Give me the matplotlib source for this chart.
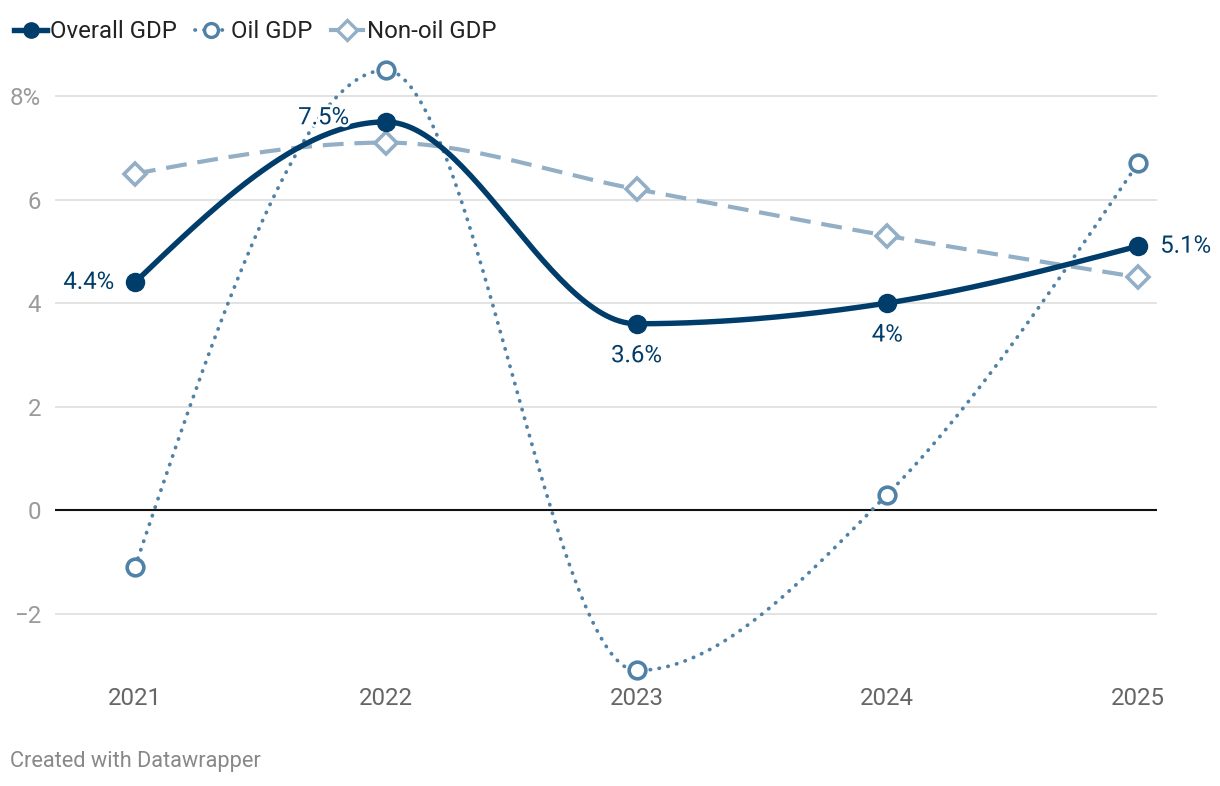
import numpy as np
import matplotlib
matplotlib.use("Agg")
import matplotlib.pyplot as plt
import matplotlib.patheffects as pe
from matplotlib.lines import Line2D

plt.rcParams["font.family"] = ["Roboto", "DejaVu Sans"]

# =========================
# DATA
# =========================
years = [2021, 2022, 2023, 2024, 2025]
overall = [4.4, 7.5, 3.6, 4.0, 5.1]
oil = [-1.1, 8.5, -3.1, 0.3, 6.7]
nonoil = [6.5, 7.1, 6.2, 5.3, 4.5]
overall_labels = ["4.4%", "7.5%", "3.6%", "4%", "5.1%"]
yticks = [-2, 0, 2, 4, 6, 8]
ytick_labels = ["\u22122", "0", "2", "4", "6", "8%"]

C_OVERALL = "#003d6b"
C_OIL = "#4f82a6"
C_NONOIL = "#93afc6"
FS = 17.3


# monotone cubic (same idea as d3 curveMonotoneX) for the smooth lines
def monotone(x, y, n=60):
    x = np.asarray(x, float)
    y = np.asarray(y, float)
    h = np.diff(x)
    s = np.diff(y) / h
    t = np.zeros(len(x))
    for i in range(1, len(x) - 1):
        p = (s[i - 1] * h[i] + s[i] * h[i - 1]) / (h[i - 1] + h[i])
        t[i] = (np.sign(s[i - 1]) + np.sign(s[i])) * min(abs(s[i - 1]), abs(s[i]), 0.5 * abs(p))
    t[0] = (3 * s[0] - t[1]) / 2
    t[-1] = (3 * s[-1] - t[-2]) / 2
    xs, ys = [], []
    for i in range(len(x) - 1):
        u = np.linspace(0, 1, n)
        h00 = 2 * u**3 - 3 * u**2 + 1
        h10 = u**3 - 2 * u**2 + u
        h01 = -2 * u**3 + 3 * u**2
        h11 = u**3 - u**2
        xs.append(x[i] + u * h[i])
        ys.append(h00 * y[i] + h10 * h[i] * t[i] + h01 * y[i + 1] + h11 * h[i] * t[i + 1])
    return np.concatenate(xs), np.concatenate(ys)


fig = plt.figure(figsize=(12.2, 7.86), dpi=100)
ax = fig.add_axes([0.0451, 0.1272, 0.9033, 0.8033])

ax.set_xlim(2020.681, 2025.076)
ax.set_ylim(-3.4, 8.8)

for v in yticks:
    if v == 0:
        ax.axhline(v, color="#111111", lw=1.5, zorder=2)
    else:
        ax.axhline(v, color="#e3e3e3", lw=1.4, zorder=1)

# non-oil
xs, ys = monotone(years, nonoil)
ax.plot(xs, ys, color=C_NONOIL, lw=3.0, dashes=(5, 2.6), zorder=3)
ax.plot(years, nonoil, ls="none", marker="D", ms=11, mfc="white", mec=C_NONOIL, mew=2.6, zorder=6)

# oil
xs, ys = monotone(years, oil)
ax.plot(xs, ys, color=C_OIL, lw=2.7, dashes=(0.1, 2.3), dash_capstyle="round", zorder=4)
ax.plot(years, oil, ls="none", marker="o", ms=12, mfc="white", mec=C_OIL, mew=2.6, zorder=6)

# overall
xs, ys = monotone(years, overall)
ax.plot(xs, ys, color=C_OVERALL, lw=3.9, solid_capstyle="round", zorder=5)
ax.plot(years, overall, ls="none", marker="o", ms=13, color=C_OVERALL, zorder=7)

# point labels
halo = [pe.withStroke(linewidth=4, foreground="white")]
offsets = [(-15, 0, "right", "center"), (-26.5, 3, "right", "center"), (0, -23, "center", "center"),
           (0, -23, "center", "center"), (16, 0, "left", "center")]
for x, y, lab, (dx, dy, ha, va) in zip(years, overall, overall_labels, offsets):
    ax.annotate(lab, (x, y), xytext=(dx, dy), textcoords="offset points", ha=ha, va=va,
                fontsize=FS, color=C_OVERALL, path_effects=halo, zorder=8)

ax.set_xticks(years)
ax.set_xticklabels([str(y) for y in years])
ax.set_yticks(yticks)
ax.set_yticklabels(ytick_labels)
ax.tick_params(axis="x", length=0, pad=1, labelsize=FS, labelcolor="#666666")
ax.tick_params(axis="y", length=0, pad=10, labelsize=FS, labelcolor="#9a9a9a")
for sp in ax.spines.values():
    sp.set_visible(False)

# legend
handles = [
    Line2D([], [], color=C_OVERALL, lw=3.9, marker="o", ms=11),
    Line2D([], [], color=C_OIL, lw=2.7, dashes=(0.1, 2.3), dash_capstyle="round",
           marker="o", ms=10, mfc="white", mec=C_OIL, mew=2.4),
    Line2D([], [], color=C_NONOIL, lw=3.0, marker="D", ms=10, mfc="white", mec=C_NONOIL, mew=2.4),
]
fig.legend(handles, ["Overall GDP", "Oil GDP", "Non-oil GDP"], loc="upper left",
           bbox_to_anchor=(-0.005, 1.0), ncol=3, frameon=False, fontsize=FS,
           handlelength=1.35, handletextpad=0.15, columnspacing=0.75, borderaxespad=0.45,
           labelcolor="#222222")

fig.text(0.008, 0.031, "Created with Datawrapper", fontsize=15.7, color="#888888", ha="left", va="center")

fig.savefig("out.png", dpi=100)
